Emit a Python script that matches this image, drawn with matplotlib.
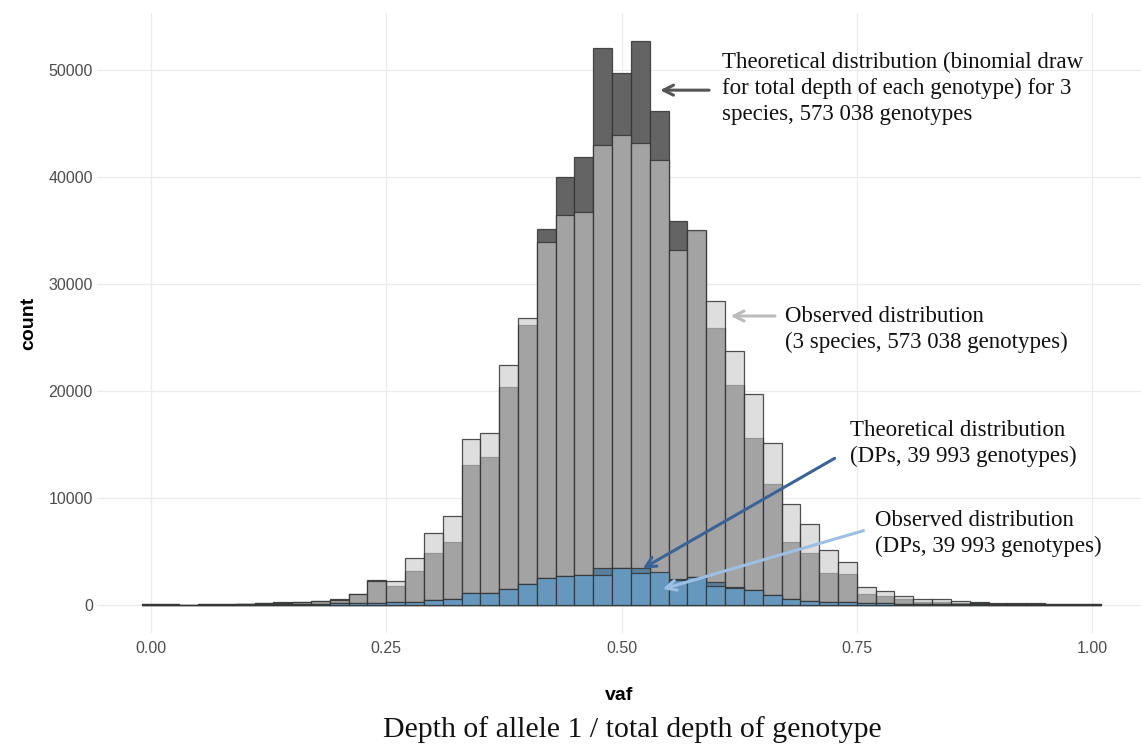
import numpy as np
import matplotlib
matplotlib.use("Agg")
import matplotlib.pyplot as plt

# histogram bins (binwidth 0.02, centred on 0.00 ... 1.00)
vaf_bins = np.linspace(0.0, 1.0, 51)

# counts per bin
theo_3sp = [60, 50, 0, 60, 80, 100, 160, 220, 280, 370,
            530, 1000, 2300, 1800, 3180, 4890, 5920, 13080, 13860, 20340,
            26170, 35110, 40030, 41900, 52030, 49750, 52710, 46170, 35920, 35000,
            25860, 20560, 15640, 11280, 5920, 4890, 2960, 2900, 1000, 800,
            530, 310, 220, 150, 220, 150, 150, 150, 100, 60, 90]
obs_3sp = [40, 40, 20, 50, 60, 80, 130, 180, 240, 330,
           480, 1030, 2250, 2240, 4360, 6700, 8320, 15510, 16100, 22430,
           26790, 33900, 36450, 36760, 42990, 43930, 43210, 41590, 33180, 35050,
           28440, 23770, 19690, 15110, 9440, 7570, 5140, 4050, 1710, 1300,
           840, 560, 530, 370, 180, 120, 110, 100, 60, 40, 60]
theo_dp = [20, 20, 20, 20, 30, 40, 50, 60, 80, 100,
           130, 150, 150, 220, 310, 470, 530, 1150, 1150, 1520,
           1930, 2490, 2650, 2800, 3460, 3430, 3400, 3020, 2400, 2590,
           2090, 1700, 1400, 930, 530, 400, 310, 250, 150, 130,
           100, 70, 60, 50, 40, 30, 30, 20, 20, 20, 20]
obs_dp = [20, 20, 20, 20, 30, 40, 50, 60, 80, 100,
          130, 150, 150, 220, 310, 470, 530, 1150, 1150, 1520,
          1930, 2490, 2650, 2800, 2800, 3430, 2960, 3070, 2340, 2590,
          1750, 1620, 1340, 930, 530, 400, 310, 250, 150, 130,
          100, 70, 60, 50, 40, 30, 30, 20, 20, 20, 20]

y_ticks = [0, 10000, 20000, 30000, 40000, 50000]
x_ticks = [0.00, 0.25, 0.50, 0.75, 1.00]

fig = plt.figure(figsize=(11.41, 7.47), dpi=100)
ax = fig.add_axes([97 / 1141, 114 / 747, 1044 / 1141, 620 / 747])

edge = (0.2, 0.2, 0.2, 0.85)
bw = 0.02
ax.bar(vaf_bins, theo_3sp, width=bw, color="#646464", edgecolor=edge, linewidth=0.9, zorder=2)
ax.bar(vaf_bins, obs_3sp, width=bw, color=(0.792, 0.792, 0.792, 0.62), edgecolor=edge, linewidth=0.9, zorder=3)
ax.bar(vaf_bins, theo_dp, width=bw, color="#5A7E9C", edgecolor=edge, linewidth=0.9, zorder=4)
ax.bar(vaf_bins, obs_dp, width=bw, color="#6598BC", edgecolor=edge, linewidth=0.9, zorder=5)

ax.set_xlim(-0.0574, 1.052)
ax.set_ylim(-2635, 55346)
ax.set_xticks(x_ticks)
ax.set_xticklabels([f"{t:.2f}" for t in x_ticks])
ax.set_yticks(y_ticks)
ax.set_yticklabels([str(t) for t in y_ticks])
ax.tick_params(length=0, labelsize=11.5, labelcolor="#4D4D4D")
ax.tick_params(axis="y", pad=3)
ax.tick_params(axis="x", pad=6)
for lab in ax.get_xticklabels() + ax.get_yticklabels():
    lab.set_family("Liberation Sans")
ax.grid(True, color="#EBEBEB", linewidth=0.9, zorder=0)
ax.set_axisbelow(True)
for s in ax.spines.values():
    s.set_visible(False)

ax.set_ylabel("count", family="Liberation Sans", fontsize=14, fontweight="bold", labelpad=8)
ax.set_xlabel("vaf", family="Liberation Sans", fontsize=14, fontweight="bold", labelpad=22)

serif = dict(family="Liberation Serif", fontsize=16.5, color="#111111", va="center", ha="left",
             linespacing=1.3)

# annotations with arrows
ax.annotate("", xy=(0.538, 48130), xytext=(0.596, 48130),
            arrowprops=dict(arrowstyle="->", color="#555555", lw=2.2, mutation_scale=18), zorder=6)
ax.text(0.607, 48318, "Theoretical distribution (binomial draw\n"
        "for total depth of each genotype) for 3\nspecies, 573 038 genotypes", **serif)

ax.annotate("", xy=(0.613, 27010), xytext=(0.666, 27010),
            arrowprops=dict(arrowstyle="->", color="#BBBBBB", lw=2.2, mutation_scale=18), zorder=6)
ax.text(0.674, 25790, "Observed distribution\n(3 species, 573 038 genotypes)", **serif)

ax.annotate("", xy=(0.520, 3270), xytext=(0.729, 13830),
            arrowprops=dict(arrowstyle="->", color="#3A6396", lw=2.2, mutation_scale=18), zorder=7)
ax.text(0.743, 15090, "Theoretical distribution\n(DPs, 39 993 genotypes)", **serif)

ax.annotate("", xy=(0.541, 1400), xytext=(0.760, 7010),
            arrowprops=dict(arrowstyle="->", color="#9DBFE3", lw=2.2, mutation_scale=18), zorder=7)
ax.text(0.769, 6680, "Observed distribution\n(DPs, 39 993 genotypes)", **serif)

fig.text(632 / 1141, 1 - 730 / 747, "Depth of allele 1 / total depth of genotype",
         family="Liberation Serif", fontsize=21.5, ha="center", va="center", color="#111111")

fig.savefig("out.png", dpi=100)
